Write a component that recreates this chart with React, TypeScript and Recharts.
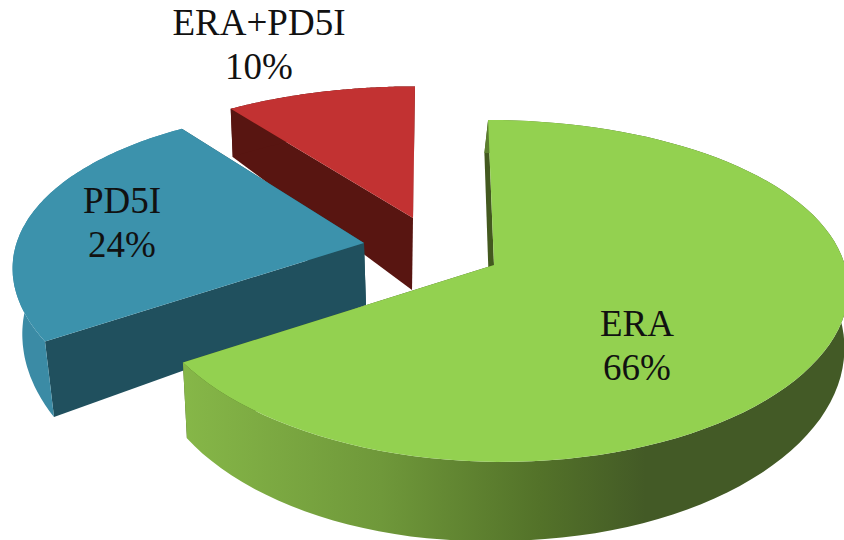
import { Pie, PieChart } from 'recharts';

const THERAPIES = ['ERA+PD5I', 'PD5I', 'ERA'];
const SHARES = [10, 24, 66];

const chartData = THERAPIES.map((name, i) => ({ name, share: SHARES[i] }));

type SliceLook = {
  dx: number;
  dy: number;
  rxLeft: number;
  rxRight: number;
  ry: number;
  px: number;
  py: number;
  shear: number;
  depth: number;
  lean: number;
  vanishX: number;
  shrink: number;
  top: string;
  side: string;
  rim: string;
  labelX: number;
  labelY: number;
};

// Exploded offset, tilt and colours of each wedge in the 3D view
const LOOKS: Record<string, SliceLook> = {
  'ERA+PD5I': {
    dx: -81,
    dy: -47,
    rxLeft: 1.02,
    rxRight: 1,
    ry: 0.44,
    px: 0.15,
    py: 0.15,
    shear: -0.015,
    depth: 72,
    lean: 0,
    vanishX: 352,
    shrink: 0.016,
    top: '#c23232',
    side: '#581511',
    rim: '#581511',
    labelX: 259,
    labelY: 35,
  },
  PD5I: {
    dx: -130,
    dy: -22,
    rxLeft: 1.01,
    rxRight: 1,
    ry: 0.477,
    px: 0.15,
    py: 0.2,
    shear: 0,
    depth: 62,
    lean: 0,
    vanishX: 455,
    shrink: 0.022,
    top: '#3c92ac',
    side: '#20505e',
    rim: '#3b8ba5',
    labelX: 122,
    labelY: 213,
  },
  ERA: {
    dx: 0,
    dy: 0,
    rxLeft: 1.015,
    rxRight: 1.02,
    ry: 0.4855,
    px: 0.12,
    py: 0.152,
    shear: 0.041,
    depth: 56,
    lean: 9,
    vanishX: 340,
    shrink: 0.025,
    top: '#93d150',
    side: '#43591f',
    rim: 'url(#eraRim)',
    labelX: 637,
    labelY: 336,
  },
};

const DEPTH_FALLOFF = 0.41;

type Pt = [number, number];

function toPath(points: Pt[]) {
  return points.map(([x, y], i) => `${i ? 'L' : 'M'}${x.toFixed(1)} ${y.toFixed(1)}`).join(' ') + ' Z';
}

function WedgeShape(props: any) {
  const { cx, cy, outerRadius, startAngle, endAngle, name } = props;
  const look = LOOKS[name];
  const ox = cx + look.dx;
  const oy = cy + look.dy;

  // upper face: circle seen in perspective, angle measured clockwise from 12 o'clock
  const upper = (deg: number, r = 1): Pt => {
    const t = ((90 - deg) * Math.PI) / 180;
    const u = Math.sin(t) * r;
    const v = Math.cos(t) * r;
    const rx = u < 0 ? look.rxLeft : look.rxRight;
    const yOff = -(outerRadius * look.ry * v) / (1 + look.py * v);
    return [ox + (outerRadius * rx * u) / (1 + look.px * v) + look.shear * yOff, oy + yOff];
  };
  // lower face sits under the upper one, thicker towards the viewer
  const lower = (deg: number, r = 1): Pt => {
    const t = ((90 - deg) * Math.PI) / 180;
    const u = Math.sin(t) * r;
    const v = Math.cos(t) * r;
    const [x, y] = upper(deg, r);
    return [
      x + (look.vanishX - Math.min(x, ox)) * look.shrink,
      y + look.depth * (1 - DEPTH_FALLOFF * v) + look.lean * Math.max(0, -u),
    ];
  };

  const steps = 96;
  const sweep: number[] = [];
  for (let i = 0; i <= steps; i++) {
    sweep.push(startAngle + ((endAngle - startAngle) * i) / steps);
  }

  const topFace = [[ox, oy] as Pt, ...sweep.map((a) => upper(a))];
  const rim = [...sweep.map((a) => upper(a)), ...[...sweep].reverse().map((a) => lower(a))];
  const cut = (a: number): Pt[] => [upper(a, 0), upper(a), lower(a), lower(a, 0)];

  return (
    <g>
      <path d={toPath(cut(startAngle))} fill={look.side} />
      <path d={toPath(cut(endAngle))} fill={look.side} />
      <path d={toPath(rim)} fill={look.rim} />
      <path d={toPath(topFace)} fill={look.top} />
    </g>
  );
}

function renderLabel(props: any) {
  const { name, value } = props;
  const look = LOOKS[name];
  return (
    <text
      x={look.labelX}
      y={look.labelY}
      textAnchor='middle'
      fontFamily='"Liberation Serif", serif'
      fontSize={37}
      fill='#111'
    >
      <tspan x={look.labelX}>{name}</tspan>
      <tspan x={look.labelX} dy={44}>
        {value}%
      </tspan>
    </text>
  );
}

export default function App() {
  return (
    <div style={{ position: 'absolute', left: 0, top: 0, width: 844, height: 540, background: '#fff' }}>
      <PieChart width={844} height={540} margin={{ top: 0, right: 0, bottom: 0, left: 0 }}>
        <defs>
          <linearGradient id='eraRim' gradientUnits='userSpaceOnUse' x1={183} y1={0} x2={844} y2={0}>
            <stop offset='0%' stopColor='#86b748' />
            <stop offset='30%' stopColor='#6f983a' />
            <stop offset='54%' stopColor='#537229' />
            <stop offset='70%' stopColor='#435a26' />
            <stop offset='100%' stopColor='#435a26' />
          </linearGradient>
        </defs>
        <Pie
          data={chartData}
          dataKey='share'
          nameKey='name'
          cx={494}
          cy={265}
          innerRadius={0}
          outerRadius={344}
          startAngle={90}
          endAngle={450}
          stroke='none'
          shape={WedgeShape}
          label={renderLabel}
          labelLine={false}
          isAnimationActive={false}
        />
      </PieChart>
    </div>
  );
}
